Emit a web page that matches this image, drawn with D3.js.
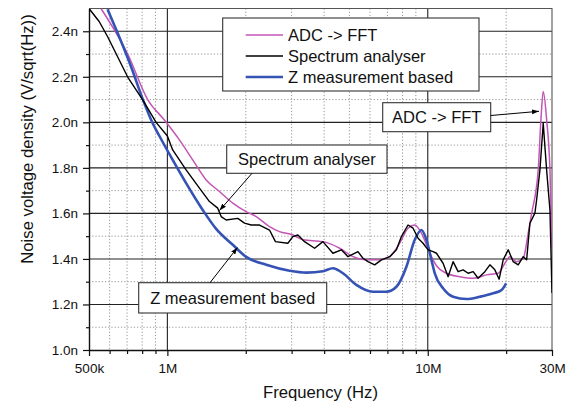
<!DOCTYPE html>
<html><head><meta charset="utf-8">
<script src="https://cdn.jsdelivr.net/npm/d3@7"></script>
<style>
html,body{margin:0;padding:0;background:#fff;}
svg{display:block;font-family:"Liberation Sans",Arial,sans-serif;}
</style></head>
<body>
<svg id="c" width="574" height="410"></svg>
<script>
// ---- data (frequency in MHz, noise density in nV/sqrt(Hz)) ----
const seriesNames = ["ADC -> FFT", "Spectrum analyser", "Z measurement based"];
const adcFFT = [[0.556,2.50],[0.704,2.30],[0.840,2.10],[0.974,2.01],[1.112,1.923],[1.251,1.835],[1.409,1.747],[1.585,1.696],[1.783,1.645],[2.006,1.608],[2.194,1.586],[2.467,1.542],[2.696,1.52],[3.033,1.505],[3.314,1.484],[3.957,1.476],[4.587,1.447],[5.160,1.41],[5.811,1.396],[6.537,1.396],[7.143,1.41],[7.803,1.469],[8.398,1.535],[8.913,1.549],[9.457,1.513],[9.886,1.462],[10.33,1.41],[10.80,1.37],[11.80,1.337],[13.28,1.322],[14.94,1.315],[16.82,1.33],[18.64,1.337],[19.78,1.381],[20.68,1.41],[21.94,1.388],[23.26,1.403],[24.31,1.513],[25.06,1.60],[26.56,1.791],[27.20,2.011],[27.76,2.135],[28.61,2.011],[29.46,1.791],[30.0,1.45]];
const spectrumAnalyser = [[0.5,2.50],[0.547,2.443],[0.589,2.377],[0.704,2.199],[0.804,2.099],[0.905,2.0],[1.0,1.94],[1.048,1.879],[1.180,1.791],[1.328,1.711],[1.451,1.652],[1.561,1.623],[1.609,1.586],[1.682,1.571],[1.864,1.578],[1.978,1.557],[2.099,1.549],[2.259,1.549],[2.467,1.527],[2.600,1.476],[2.902,1.469],[3.033,1.498],[3.171,1.505],[3.364,1.476],[3.676,1.447],[3.957,1.476],[4.323,1.425],[4.657,1.44],[4.937,1.41],[5.394,1.432],[5.638,1.403],[5.894,1.388],[6.254,1.374],[6.637,1.396],[7.143,1.41],[7.579,1.44],[7.922,1.498],[8.398,1.549],[8.779,1.535],[9.178,1.491],[9.592,1.469],[10.03,1.44],[10.48,1.432],[10.80,1.425],[11.45,1.381],[11.97,1.322],[12.51,1.388],[13.08,1.344],[13.67,1.352],[14.29,1.337],[14.94,1.344],[15.61,1.315],[16.57,1.344],[17.32,1.374],[18.10,1.352],[18.80,1.311],[19.48,1.396],[20.37,1.44],[21.29,1.388],[22.25,1.374],[23.26,1.41],[23.97,1.396],[24.68,1.557],[25.79,1.601],[26.18,1.659],[26.96,1.79],[27.76,1.996],[28.61,1.79],[29.46,1.615],[30.0,1.25]];
const zMeasurement = [[0.589,2.497],[0.644,2.392],[0.725,2.245],[0.804,2.102],[0.878,1.996],[0.932,1.94],[1.048,1.835],[1.180,1.733],[1.367,1.615],[1.539,1.532],[1.783,1.462],[2.0,1.41],[2.397,1.374],[2.947,1.348],[3.415,1.340],[3.957,1.346],[4.323,1.359],[4.723,1.337],[5.318,1.286],[6.161,1.256],[6.937,1.256],[7.579,1.278],[8.280,1.366],[8.913,1.484],[9.457,1.527],[9.886,1.484],[10.33,1.396],[10.64,1.337],[11.45,1.271],[12.51,1.234],[14.09,1.224],[15.85,1.234],[17.83,1.249],[19.21,1.264],[20.0,1.293]];
const xMajorTicks = [0.5, 1, 10, 30];
const xTickLabels = ["500k", "1M", "10M", "30M"];
const xMinorTicks = [0.6,0.7,0.8,0.9,2,3,4,5,6,7,8,9,20];
const yMajorTicks = [1.0,1.2,1.4,1.6,1.8,2.0,2.2,2.4];
const yMinorTicks = [1.1,1.3,1.5,1.7,1.9,2.1,2.3];
const annotations = [
  {text:"ADC -> FFT", box:[382.7,102.7,108,29], from:[490.7,115.5], to:[539,111.3]},
  {text:"Spectrum analyser", box:[226.7,145,160.3,28.3], from:[252,173.3], to:[219.5,210.5]},
  {text:"Z measurement based", box:[138.7,282.7,188,30.3], from:[210,282.7], to:[237.5,247.5]}
];

const colors = ["#c355b4", "#000000", "#3553b4"];
const widths = [1.5, 1.4, 2.6];

const svg = d3.select("#c");
const L = 89, R = 552, T = 8.5, B = 350;
const x = d3.scaleLog().domain([0.5, 30]).range([L, R]);
const y = d3.scaleLinear().domain([1.0, 2.5]).range([B, T]);

svg.append("defs").append("clipPath").attr("id","clip")
  .append("rect").attr("x",L).attr("y",T).attr("width",R-L).attr("height",B-T);
const mk = svg.select("defs").append("marker").attr("id","arr")
  .attr("viewBox","0 0 10 10").attr("refX",10).attr("refY",5)
  .attr("markerWidth",7).attr("markerHeight",7).attr("markerUnits","userSpaceOnUse")
  .attr("orient","auto");
mk.append("path").attr("d","M0,1.5 L10,5 L0,8.5 Z").attr("fill","#000");

// minor grid (dotted)
const g = svg.append("g");
g.selectAll(".vmin").data(xMinorTicks).join("line")
  .attr("x1",d=>x(d)).attr("x2",d=>x(d)).attr("y1",T).attr("y2",B)
  .attr("stroke","#8a8a8a").attr("stroke-width",0.9).attr("stroke-dasharray","1.2,2");
g.selectAll(".hmin").data(yMinorTicks).join("line")
  .attr("y1",d=>y(d)).attr("y2",d=>y(d)).attr("x1",L).attr("x2",R)
  .attr("stroke","#8a8a8a").attr("stroke-width",0.9).attr("stroke-dasharray","1.2,2");
// major grid (solid)
g.selectAll(".vmaj").data([1,10]).join("line")
  .attr("x1",d=>x(d)).attr("x2",d=>x(d)).attr("y1",T).attr("y2",B)
  .attr("stroke","#222").attr("stroke-width",1.1);
g.selectAll(".hmaj").data(yMajorTicks.filter(d=>d>1.0)).join("line")
  .attr("y1",d=>y(d)).attr("y2",d=>y(d)).attr("x1",L).attr("x2",R)
  .attr("stroke","#222").attr("stroke-width",1.1);
// frame top/right
svg.append("path").attr("d",`M${L},${T}H${R}V${B}`).attr("fill","none")
  .attr("stroke","#555").attr("stroke-width",1.1);

// axes
const fmtX = d => xTickLabels[xMajorTicks.indexOf(d)];
const xAxis = svg.append("g").attr("transform",`translate(0,${B})`)
  .call(d3.axisBottom(x).tickValues(xMajorTicks).tickFormat(fmtX).tickSize(6).tickSizeOuter(0));
svg.append("g").attr("transform",`translate(0,${B})`)
  .call(d3.axisBottom(x).tickValues(xMinorTicks).tickFormat("").tickSize(4).tickSizeOuter(0))
  .select(".domain").remove();
const yAxis = svg.append("g").attr("transform",`translate(${L},0)`)
  .call(d3.axisLeft(y).tickValues(yMajorTicks).tickFormat(d=>d3.format(".1f")(d)+"n").tickSize(6).tickSizeOuter(0));
svg.append("g").attr("transform",`translate(${L},0)`)
  .call(d3.axisLeft(y).tickValues(yMinorTicks).tickFormat("").tickSize(3).tickSizeOuter(0))
  .select(".domain").remove();
svg.selectAll(".tick line").attr("stroke","#111").attr("stroke-width",1.2);
svg.selectAll(".domain").attr("stroke","#111").attr("stroke-width",1.4);
xAxis.selectAll("text").attr("font-size","13.5px").attr("fill","#111").attr("dy","0").attr("y",23);
yAxis.selectAll("text").attr("font-size","13.5px").attr("fill","#111").attr("x",-11);
svg.selectAll(".tick text").attr("font-family","Liberation Sans, Arial, sans-serif");

// axis titles
svg.append("text").attr("x",(L+R)/2).attr("y",398).attr("text-anchor","middle")
  .attr("font-size","16.7px").attr("fill","#111").text("Frequency (Hz)");
svg.append("text").attr("transform","translate(33,139) rotate(-90)").attr("text-anchor","middle")
  .attr("font-size","16.7px").attr("fill","#111").text("Noise voltage density (V/sqrt(Hz))");

// lines
const line = d3.line().x(d=>x(d[0])).y(d=>y(d[1]));
const plot = svg.append("g").attr("clip-path","url(#clip)");
const allSeries = [adcFFT, spectrumAnalyser, zMeasurement];
[0,2,1].forEach(i=>{
  plot.append("path").datum(allSeries[i])
    .attr("d", line.curve(i===1 ? d3.curveLinear : d3.curveMonotoneX)(allSeries[i]))
    .attr("fill","none").attr("stroke",colors[i]).attr("stroke-width",widths[i])
    .attr("stroke-linejoin","round");
});

// legend
const lg = svg.append("g");
lg.append("rect").attr("x",222.7).attr("y",18).attr("width",256.3).attr("height",73)
  .attr("fill","#fff").attr("stroke","#333").attr("stroke-width",1.1);
seriesNames.forEach((n,i)=>{
  const cy = 35 + i*21;
  lg.append("line").attr("x1",245.7).attr("x2",283).attr("y1",cy).attr("y2",cy)
    .attr("stroke",colors[i]).attr("stroke-width",i===2?2.6:1.6);
  lg.append("text").attr("x",288).attr("y",cy+6).attr("font-size","16.5px").attr("fill","#111").text(n);
});

// annotations
annotations.forEach(a=>{
  const [bx,by,bw,bh] = a.box;
  svg.append("rect").attr("x",bx).attr("y",by).attr("width",bw).attr("height",bh)
    .attr("fill","#fff").attr("stroke","#333").attr("stroke-width",1.1);
  svg.append("text").attr("x",bx+bw/2).attr("y",by+bh/2+6).attr("text-anchor","middle")
    .attr("font-size","16.5px").attr("fill","#111").text(a.text);
  svg.append("line").attr("x1",a.from[0]).attr("y1",a.from[1]).attr("x2",a.to[0]).attr("y2",a.to[1])
    .attr("stroke","#000").attr("stroke-width",1).attr("marker-end","url(#arr)");
});
</script>
</body></html>
